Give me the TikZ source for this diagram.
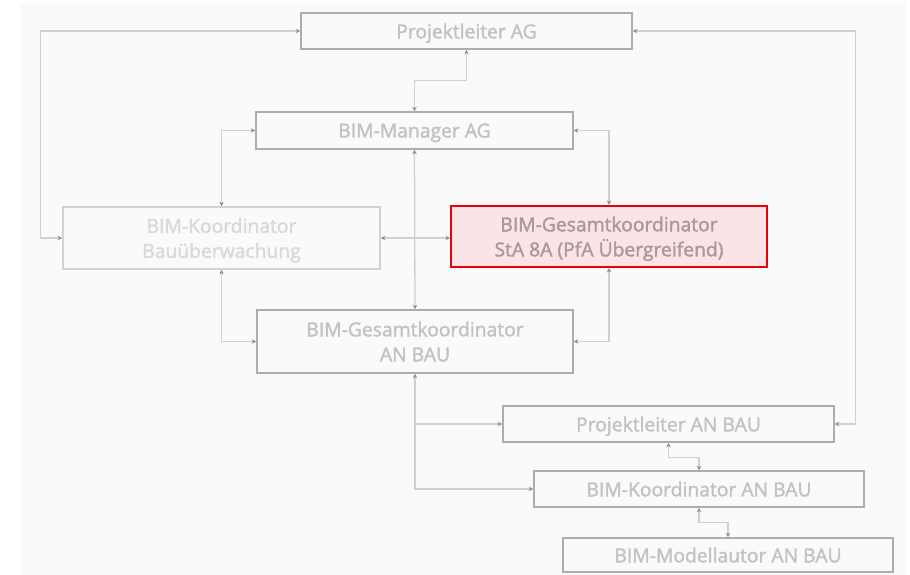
\documentclass[tikz,border=0pt]{standalone}
\usepackage{fontspec}
\setmainfont{Open Sans}
\newfontfamily\rolefont{Open Sans}[FakeBold=1.8]
\usetikzlibrary{arrows.meta,calc,shadows}
\definecolor{bg}{HTML}{FAFAFA}
\definecolor{boxline}{HTML}{ADADAD}
\definecolor{boxtext}{HTML}{C2C2C2}
\definecolor{fadeline}{HTML}{D2D2D2}
\definecolor{fadetext}{HTML}{D9D9D9}
\definecolor{connline}{HTML}{D0D0D0}
\definecolor{tipcol}{HTML}{8C8C8C}
\definecolor{hired}{HTML}{E8000B}
\definecolor{hifill}{HTML}{FCE4E6}
\definecolor{hitext}{HTML}{A8999B}
\begin{document}
\begin{tikzpicture}[x=1pt,y=-1pt,
  rolebox/.style={draw=boxline,line width=1.6pt,fill=bg,text=boxtext,
    font=\rolefont\fontsize{19.3}{25}\selectfont,align=center,inner sep=0pt,
    text depth=-1.5pt,
    minimum width=#1,
    drop shadow={shadow xshift=0.6pt,shadow yshift=-1.2pt,fill=black!30,opacity=0.5}},
  fadebox/.style={rolebox=#1,draw=fadeline,text=fadetext},
  hibox/.style={rolebox=#1,draw=hired,fill=hifill,text=hitext,line width=2.2pt},
  conn/.style={draw=connline,line width=1.3pt,
    {Stealth[length=4.5pt,width=4.5pt,color=tipcol]}-{Stealth[length=4.5pt,width=4.5pt,color=tipcol]}},
  connone/.style={draw=connline,line width=1.3pt,
    -{Stealth[length=4.5pt,width=4.5pt,color=tipcol]}}
]
\useasboundingbox (0,0) rectangle (910,575);
\fill[white] (0,0) rectangle (910,575);
\fill[bg] (20,3) rectangle (906,575);

\node[rolebox=331pt,minimum height=36pt] (PLAG) at (466.5,31) {Projektleiter AG};
\node[rolebox=317pt,minimum height=37pt] (MAN) at (414.5,130.5) {BIM-Manager AG};
\node[fadebox=317pt,minimum height=62pt] (KBU) at (221.5,238) {BIM-Koordinator\\Bauüberwachung};
\node[hibox=316pt,minimum height=61pt] (STA) at (609,236.5) {BIM-Gesamtkoordinator\\StA 8A (PfA Übergreifend)};
\node[rolebox=316pt,minimum height=63pt] (ANB) at (415,341.5) {BIM-Gesamtkoordinator\\AN BAU};
\node[rolebox=331pt,minimum height=36pt] (PLAN) at (668.5,424) {Projektleiter AN BAU};
\node[rolebox=330pt,minimum height=36pt] (KAN) at (699,489) {BIM-Koordinator AN BAU};
\node[rolebox=330pt,minimum height=34pt] (MOD) at (728,555) {BIM-Modellautor AN BAU};

% connectors
\draw[conn] (PLAG.west) -- ++(-260,0) |- (KBU.west);
\draw[conn] (PLAG.east) -- ++(223,0) |- (PLAN.east);
\draw[conn] (MAN.north) -- ++(0,-31) -| (PLAG.south);
\draw[conn] (MAN.west) -| (KBU.north);
\draw[conn] (MAN.east) -| (STA.north);
\draw[conn] (MAN.south) -- (ANB.north);
\draw[conn] (KBU.east) -- (KBU.east -| STA.west);
\draw[conn] (KBU.south) |- (ANB.west);
\draw[conn] (STA.south) |- (ANB.east);
\draw[conn] (ANB.south) |- (KAN.west);
\draw[connone] (ANB.south |- PLAN.west) -- (PLAN.west);
\draw[conn] (PLAN.south) -- ++(0,15) -| (KAN.north);
\draw[conn] (KAN.south) -- ++(0,15) -| (MOD.north);
\end{tikzpicture}
\end{document}
